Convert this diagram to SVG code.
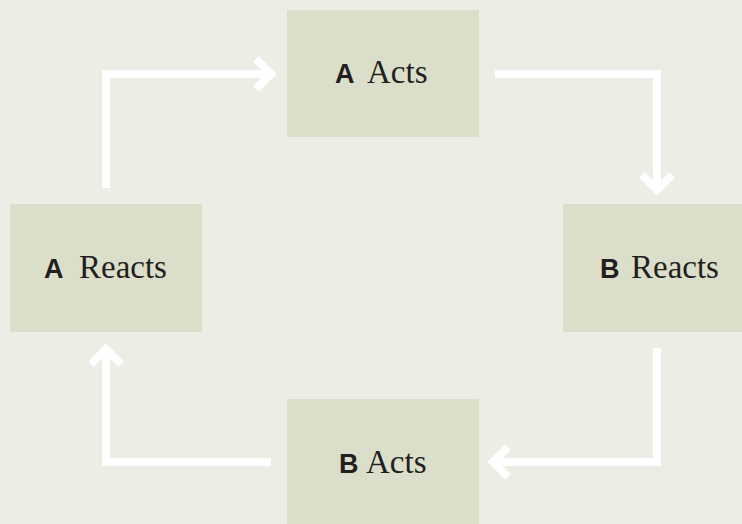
<svg xmlns="http://www.w3.org/2000/svg" width="742" height="524" viewBox="0 0 742 524">
<style>
.box{fill:#DBDFCA}
.b{font-family:"Liberation Sans",Arial,sans-serif;font-weight:bold;font-size:27px;fill:#231F20}
.s{font-family:"Liberation Serif","Times New Roman",serif;font-size:33px;fill:#231F20}
.conn{fill:none;stroke:#FFFFFF;stroke-width:8;stroke-linejoin:miter}
</style>
<defs>
<marker id="chev" markerUnits="userSpaceOnUse" markerWidth="50" markerHeight="50" viewBox="-25 -25 50 50" refX="0" refY="0" orient="auto" overflow="visible">
<path d="M-15,-15 L0,0 L-15,15" fill="none" stroke="#FFFFFF" stroke-width="8" stroke-linejoin="miter"/>
</marker>
</defs>
<rect x="0" y="0" width="742" height="524" fill="#ECEEE5"/>
<g id="connectors">
<path class="conn" d="M106,188 V74 H271" marker-end="url(#chev)"/>
<path class="conn" d="M495,74 H657 V190" marker-end="url(#chev)"/>
<path class="conn" d="M657,348 V462 H493" marker-end="url(#chev)"/>
<path class="conn" d="M271,462 H106 V349" marker-end="url(#chev)"/>
</g>
<g id="a-acts">
<rect class="box" x="287" y="10" width="192" height="127"/>
<text class="b" x="335" y="83">A</text>
<text class="s" x="367" y="83">Acts</text>
</g>
<g id="b-reacts">
<rect class="box" x="563" y="204" width="192" height="128"/>
<text class="b" x="600" y="278">B</text>
<text class="s" x="631" y="278">Reacts</text>
</g>
<g id="b-acts">
<rect class="box" x="287" y="399" width="192" height="128"/>
<text class="b" x="339" y="473">B</text>
<text class="s" x="366" y="473">Acts</text>
</g>
<g id="a-reacts">
<rect class="box" x="10" y="204" width="192" height="128"/>
<text class="b" x="44" y="278">A</text>
<text class="s" x="79" y="278">Reacts</text>
</g>
</svg>
